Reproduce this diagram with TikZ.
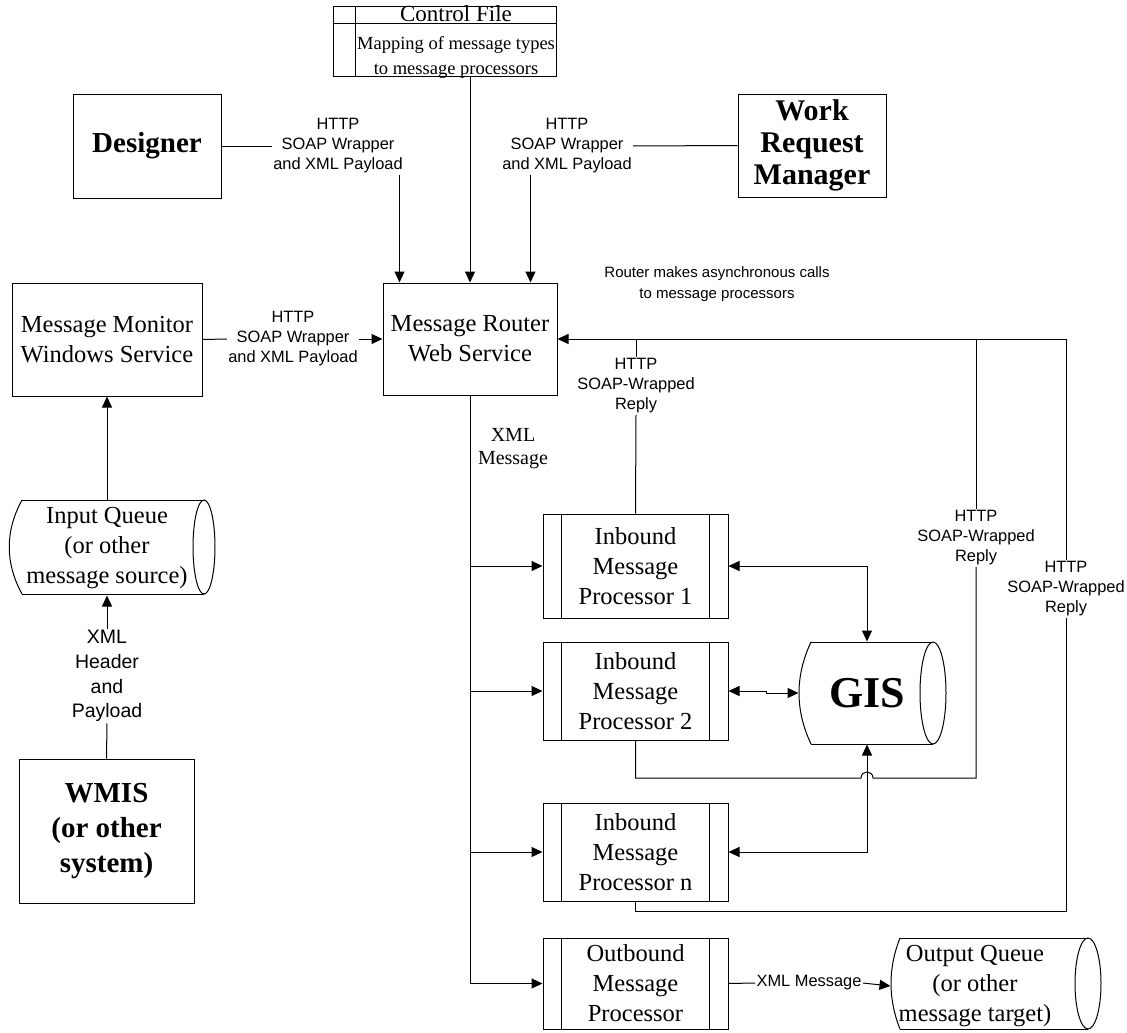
\documentclass[tikz,border=0pt]{standalone}
\usepackage{fontspec}
\setmainfont{Liberation Serif}
\setsansfont{Liberation Sans}
\usetikzlibrary{arrows.meta,calc}
\begin{document}
\begin{tikzpicture}[x=1pt,y=-1pt,line width=1pt,
  arr/.style={-{Triangle[length=11pt,width=10pt]}},
  darr/.style={{Triangle[length=11pt,width=10pt]}-{Triangle[length=11pt,width=10pt]}},
  box/.style={draw, align=center, inner sep=0pt, font=\fontsize{24.5}{30}\selectfont},
  bbox/.style={draw, align=center, inner sep=0pt, font=\bfseries\fontsize{29}{35}\selectfont},
  lbl/.style={align=center, inner sep=1pt, font=\sffamily\fontsize{16.4}{20}\selectfont},
  txt/.style={align=center, inner sep=0pt, font=\fontsize{24.5}{30}\selectfont},
]
\useasboundingbox (0,0) rectangle (1127,1033);

% Control file
\node[draw, minimum width=223pt, minimum height=70pt, inner sep=0pt] (ctrl) at (444.5,42) {};
\draw ($(ctrl.north west)+(0,17)$) -- ($(ctrl.north east)+(0,17)$);
\draw ($(ctrl.north west)+(23,0)$) -- ($(ctrl.south west)+(23,0)$);
\node[txt, font=\fontsize{23}{26}\selectfont] (ctrlt) at (456,14) {Control File};
\node[txt, font=\fontsize{18.5}{25}\selectfont] (ctrlb) at (456,57) {Mapping of message types\\to message processors};

% Top boxes
\node[bbox, minimum width=148pt, minimum height=104pt] (designer) at (147,146) {Designer};
\node[bbox, font=\bfseries\fontsize{30}{32}\selectfont, minimum width=148pt, minimum height=103pt] (wrm) at (812,145.5) {Work\\Request\\Manager};

% Router and monitor
\node[box, minimum width=174pt, minimum height=112pt] (router) at (470,339) {Message Router\\Web Service};
\node[box, minimum width=190pt, minimum height=113pt] (monitor) at (107,339.5) {Message Monitor\\Windows Service};

% Input queue
\node[txt, minimum width=170pt, minimum height=94pt] (inq) at (107,548) {Input Queue\\(or other\\message source)};
\draw (22,500) -- (204,500);
\draw (22,594) -- (204,594);
\draw (204,547) ellipse [x radius=11, y radius=47];
\draw (22,500) .. controls (5,531) and (5,563) .. (22,594);

% WMIS
\node[bbox, minimum width=175pt, minimum height=144pt] (wmis) at (106.5,831) {WMIS\\(or other\\system)};

% Processors
\node[box, minimum width=185pt, minimum height=104pt] (imp1) at (635.5,566) {Inbound\\Message\\Processor 1};
\node[box, minimum width=185pt, minimum height=98pt] (imp2) at (635.5,691) {Inbound\\Message\\Processor 2};
\node[box, minimum width=185pt, minimum height=98pt] (impn) at (635.5,852) {Inbound\\Message\\Processor n};
\node[box, minimum width=185pt, minimum height=91pt] (outb) at (635.5,983.5) {Outbound\\Message\\Processor};
\foreach \n in {imp1,imp2,impn,outb} {
  \draw ($(\n.north west)+(19,0)$) -- ($(\n.south west)+(19,0)$);
  \draw ($(\n.north east)+(-19,0)$) -- ($(\n.south east)+(-19,0)$);
}

% GIS
\node[txt, font=\bfseries\fontsize{44}{46}\selectfont, minimum width=136pt, minimum height=102pt] (gis) at (867,693) {GIS};
\draw (811,642) -- (933,642);
\draw (811,744) -- (933,744);
\draw (933,693) ellipse [x radius=13, y radius=51];
\draw (811,642) .. controls (795,676) and (795,710) .. (811,744);

% Output queue
\node[txt, minimum width=168pt, minimum height=91pt] (outq) at (975,986) {Output Queue\\(or other\\message target)};
\draw (900,938) -- (1088,938);
\draw (900,1029) -- (1088,1029);
\draw (1088,983.5) ellipse [x radius=13, y radius=45.5];
\draw (900,938) .. controls (888,968) and (888,999) .. (900,1029);

% Labels
\node[lbl] (lblD) at (338,146) {HTTP\\SOAP Wrapper\\and XML Payload};
\node[lbl] (lblW) at (567,146) {HTTP\\SOAP Wrapper\\and XML Payload};
\node[lbl] (lblM) at (293,339) {HTTP\\SOAP Wrapper\\and XML Payload};
\node[lbl, font=\sffamily\fontsize{19.5}{24.7}\selectfont] (lblX) at (107,676) {XML\\Header\\and\\Payload};
\node[lbl] (lblR1) at (636,386) {HTTP\\SOAP-Wrapped\\Reply};
\node[lbl] (lblR2) at (976,538) {HTTP\\SOAP-Wrapped\\Reply};
\node[lbl] (lblR3) at (1066,589) {HTTP\\SOAP-Wrapped\\Reply};
\node[lbl] (lblXM) at (809,983) {XML Message};
\node[txt, font=\fontsize{20}{23}\selectfont] (lblXMLm) at (513,449) {XML\\Message};
\node[lbl, font=\sffamily\fontsize{15}{21}\selectfont] (note) at (717,284) {Router makes asynchronous calls\\to message processors};

% Connectors top
\draw[arr] (router.north |- ctrl.south) -- (router.north);
\draw (designer.east) -- (lblD.west);
\coordinate (rD) at ($(router.north west)+(17,0)$);
\draw[arr] (rD |- lblD.south) -- (rD);
\coordinate (rW) at ($(router.north east)+(-27,0)$);
\draw[arr] (rW |- lblW.south) -- (rW);
\draw (lblW.east) -- (wrm.west);

% Left side
\draw (monitor.east) -- (lblM.west);
\draw[arr] (lblM.east) -- (router.west);
\draw[arr] (monitor.south |- inq.north) -- (monitor.south);
\draw (wmis.north) -- (lblX.south);
\draw[arr] (lblX.north) -- (inq.south);

% Router distribution
\draw[arr] (router.south) |- (outb.west);
\foreach \n in {imp1,imp2,impn} \draw[arr] (router.south |- \n.west) -- (\n.west);

% Replies
\coordinate (tr) at (1066,339);
\coordinate (tm) at (976,339);
\draw[arr] (tr) -- (router.east);
\draw (imp1.north) -- (lblR1.south);
\draw (lblR1.north) -- (lblR1.north |- router.east);
\draw (imp2.south) |- (861,778) .. controls (861,770) and (873,770) .. (873,778) -| (lblR2.south);
\draw (lblR2.north) -- (tm);
\coordinate (br) at (1066,911);
\draw (impn.south) |- (br) -- (lblR3.south);
\draw (lblR3.north) -- (tr);

% GIS links
\draw[darr] (imp1.east) -| (gis.north);
\draw[darr] (impn.east) -| (gis.south);
\draw[darr] (imp2.east) -- ++(38,0) |- (gis.west);

% Output
\draw (outb.east) -- (lblXM.west);
\draw[arr] (lblXM.east) -- (outq.west);
\end{tikzpicture}
\end{document}
